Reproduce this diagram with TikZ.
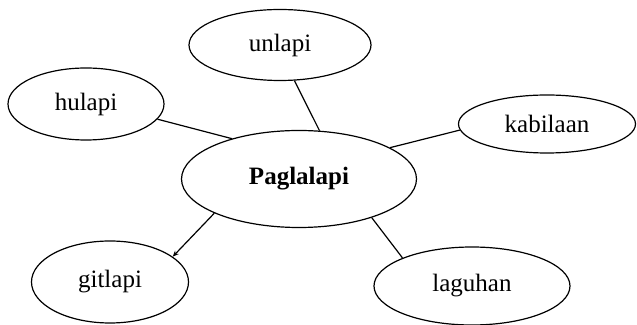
\documentclass[tikz,border=0pt]{standalone}
\usepackage{fontspec}
\setmainfont{Liberation Serif}
\usetikzlibrary{shapes.geometric,arrows.meta}

\begin{document}
\begin{tikzpicture}[x=0.5pt, y=-0.5pt, line width=0.6pt,
			main node/.style={ellipse,draw,inner sep=0pt,font=\fontsize{12.5}{14}\selectfont}]
			
			\useasboundingbox (0,0) rectangle (637,325);
			
			\node[main node,minimum width=235*0.5pt,minimum height=97*0.5pt] (pag) at (299,179) {\textbf{Paglalapi}};
			\node[main node,minimum width=182*0.5pt,minimum height=71*0.5pt] (unl) at (280,45) {unlapi};
			\node[main node,minimum width=156*0.5pt,minimum height=72*0.5pt] (hul) at (86,104) {hulapi};
			\node[main node,minimum width=177*0.5pt,minimum height=58*0.5pt] (kab) at (547,124) {kabilaan};
			\node[main node,minimum width=157*0.5pt,minimum height=82*0.5pt] (git) at (110,282) {gitlapi};
			\node[main node,minimum width=196*0.5pt,minimum height=78*0.5pt] (lag) at (472,286) {laguhan};
			
			\path
			(hul.-12) edge (pag.149)
			(unl.-68) edge (pag.67)
			(kab.184) edge (pag.19)
			(pag.-28) edge (lag.158)
			(pag.202) edge [-{Stealth[length=3pt,width=2.5pt]}] (git.22);
			 
		\end{tikzpicture}
\end{document}
